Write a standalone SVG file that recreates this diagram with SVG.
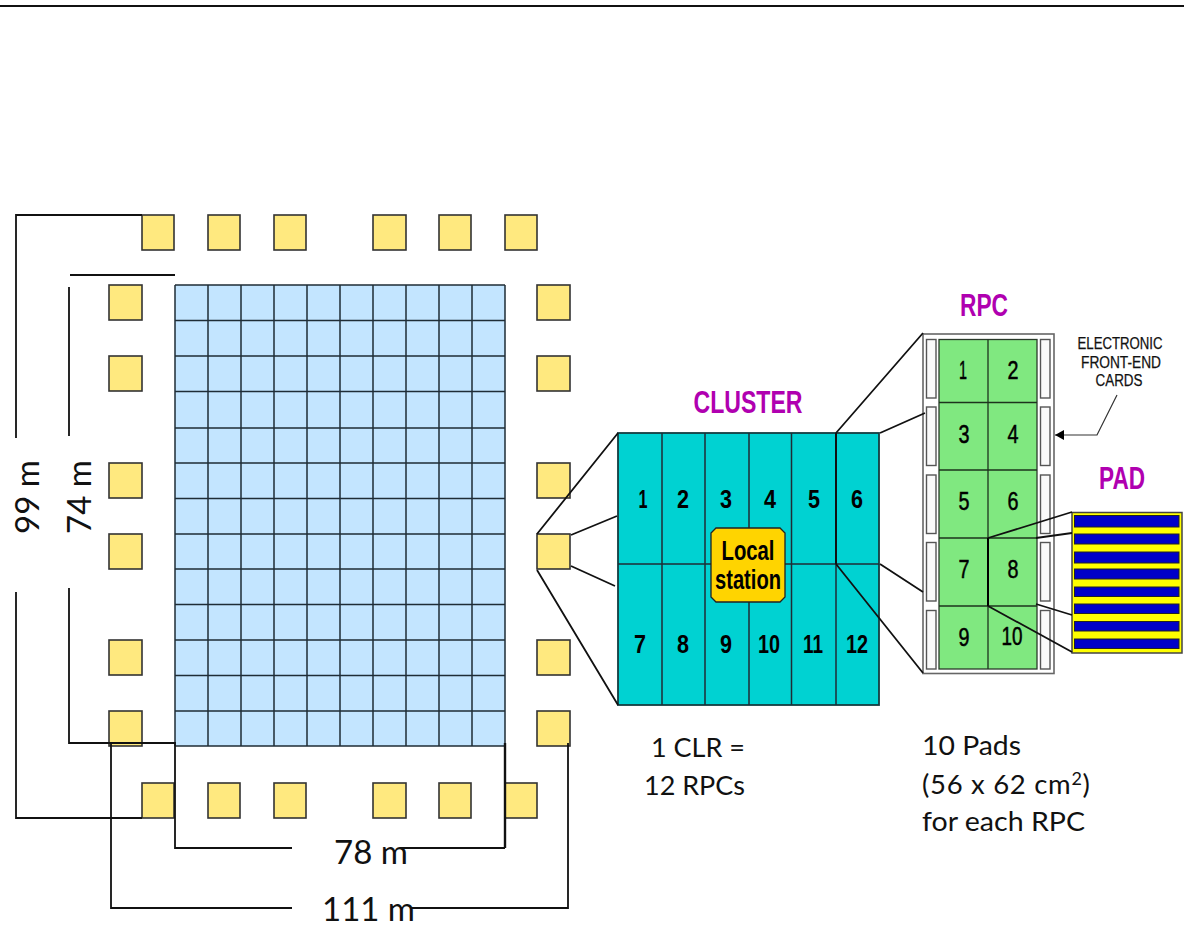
<svg xmlns="http://www.w3.org/2000/svg" width="1184" height="926" viewBox="0 0 1184 926">
<style>
.y{fill:#ffe97f;stroke:#333;stroke-width:1.6}
.g{stroke:#1f2d36;stroke-width:1.5;fill:none}
.l{stroke:#111;stroke-width:1.8;fill:none}
.c{fill:#00d2d2;stroke:#143c40;stroke-width:1.8}
.n{font-family:"Liberation Sans",sans-serif;font-weight:700;font-size:26px;text-anchor:middle;fill:#000}
.r{font-family:"Liberation Sans",sans-serif;font-size:25px;text-anchor:middle;fill:#000;stroke:#000;stroke-width:.5}
.t{font-family:"Liberation Sans",sans-serif;font-weight:700;text-anchor:middle;fill:#b000b0;font-size:32px}
.d{font-family:Lato,"Liberation Sans",sans-serif;fill:#111;font-size:33px}
.s{font-family:Lato,"Liberation Sans",sans-serif;fill:#111;font-size:27.500px}
.e{font-family:"Liberation Sans",sans-serif;font-size:16px;text-anchor:middle;fill:#111;stroke:#111;stroke-width:.25}
.w{fill:#fafafa;stroke:#555;stroke-width:1.4}
.b{fill:#0000c8;stroke:#222;stroke-width:1}
</style>
<defs><marker id="a" markerWidth="10" markerHeight="10" refX="9" refY="5" orient="auto" markerUnits="userSpaceOnUse"><path d="M0 0L9 5L0 10Z" fill="#000"/></marker></defs>
<line x1="0" y1="6" x2="1184" y2="6" stroke="#111" stroke-width="2"/>
<g id="grid">
<rect x="175" y="285" width="330" height="461" fill="#c3e5ff"/>
<path class="g" d="M175 285V746M208 285V746M241 285V746M274 285V746M307 285V746M340 285V746M373 285V746M406 285V746M439 285V746M472 285V746M505 285V746M175 285H505M175 320.500H505M175 356H505M175 391.500H505M175 428H505M175 463H505M175 498.500H505M175 534H505M175 569H505M175 604.500H505M175 640H505M175 675.500H505M175 711H505M175 746H505"/>
</g>
<g id="stations">
<rect class="y" x="142" y="215" width="32" height="35"/><rect class="y" x="208" y="215" width="32" height="35"/><rect class="y" x="274" y="215" width="32" height="35"/><rect class="y" x="373" y="215" width="33" height="35"/><rect class="y" x="439" y="215" width="32" height="35"/><rect class="y" x="505" y="215" width="32" height="35"/>
<rect class="y" x="142" y="783" width="32" height="35"/><rect class="y" x="208" y="783" width="32" height="35"/><rect class="y" x="274" y="783" width="32" height="35"/><rect class="y" x="373" y="783" width="33" height="35"/><rect class="y" x="439" y="783" width="32" height="35"/><rect class="y" x="505" y="783" width="32" height="35"/>
<rect class="y" x="109" y="285" width="33" height="35"/><rect class="y" x="109" y="356" width="33" height="35"/><rect class="y" x="109" y="463" width="33" height="35"/><rect class="y" x="109" y="534" width="33" height="35"/><rect class="y" x="109" y="640" width="33" height="35"/><rect class="y" x="109" y="711" width="33" height="35"/>
<rect class="y" x="537" y="285" width="33" height="35"/><rect class="y" x="537" y="356" width="33" height="35"/><rect class="y" x="537" y="463" width="33" height="35"/><rect class="y" x="537" y="534" width="33" height="35"/><rect class="y" x="537" y="640" width="33" height="35"/><rect class="y" x="537" y="711" width="33" height="35"/>
</g>
<g id="cluster">
<rect class="c" x="618" y="433" width="261" height="272"/>
<path class="g" d="M662 433V705M705 433V705M749 433V705M791.500 433V705M836 564V705M618 564H879"/>
<path d="M836 433V564" stroke="#111" stroke-width="2" fill="none"/>
<path d="M716 528H780L785 533V597L780 602H716L711 597V533Z" fill="#ffd400" stroke="#222" stroke-width="1.300"/>
<text class="n" x="643" y="508" textLength="9" lengthAdjust="spacingAndGlyphs">1</text><text class="n" x="683" y="508" textLength="12" lengthAdjust="spacingAndGlyphs">2</text><text class="n" x="726" y="508" textLength="12" lengthAdjust="spacingAndGlyphs">3</text><text class="n" x="770" y="508" textLength="12" lengthAdjust="spacingAndGlyphs">4</text><text class="n" x="814" y="508" textLength="12" lengthAdjust="spacingAndGlyphs">5</text><text class="n" x="857" y="508" textLength="12" lengthAdjust="spacingAndGlyphs">6</text>
<text class="n" x="640" y="653" textLength="12" lengthAdjust="spacingAndGlyphs">7</text><text class="n" x="683" y="653" textLength="12" lengthAdjust="spacingAndGlyphs">8</text><text class="n" x="726" y="653" textLength="12" lengthAdjust="spacingAndGlyphs">9</text><text class="n" x="769" y="653" textLength="22" lengthAdjust="spacingAndGlyphs">10</text><text class="n" x="813" y="653" textLength="20" lengthAdjust="spacingAndGlyphs">11</text><text class="n" x="857" y="653" textLength="22" lengthAdjust="spacingAndGlyphs">12</text>
<text class="n" x="748" y="560" textLength="53" lengthAdjust="spacingAndGlyphs" style="font-size:28px">Local</text><text class="n" x="748" y="589" textLength="66" lengthAdjust="spacingAndGlyphs" style="font-size:28px">station</text>
<text class="t" x="748" y="413" textLength="109" lengthAdjust="spacingAndGlyphs">CLUSTER</text>
</g>
<g id="rpc">
<rect x="923" y="334" width="131" height="339.500" fill="#fff" stroke="#666" stroke-width="1.600"/>
<rect class="w" x="926.500" y="339.500" width="9.500" height="58.500"/><rect class="w" x="926.500" y="407" width="9.500" height="58.500"/><rect class="w" x="926.500" y="475" width="9.500" height="58.500"/><rect class="w" x="926.500" y="542.500" width="9.500" height="58.500"/><rect class="w" x="926.500" y="610.500" width="9.500" height="58.500"/>
<rect class="w" x="1040.500" y="339.500" width="9.500" height="58.500"/><rect class="w" x="1040.500" y="407" width="9.500" height="58.500"/><rect class="w" x="1040.500" y="475" width="9.500" height="58.500"/><rect class="w" x="1040.500" y="542.500" width="9.500" height="58.500"/><rect class="w" x="1040.500" y="610.500" width="9.500" height="58.500"/>
<rect x="939" y="339.500" width="98" height="329.500" fill="#80e880" stroke="#2a3a2a" stroke-width="1.300"/>
<path d="M988 339.500V538M988 606V669M939 402.500H1037M939 470H1037M939 538H1037M939 606H1037" stroke="#1d331d" stroke-width="1.300" fill="none"/>
<path d="M988 538V606" stroke="#000" stroke-width="2" fill="none"/>
<text class="r" x="963" y="379" textLength="8" lengthAdjust="spacingAndGlyphs">1</text><text class="r" x="1013" y="379" textLength="11" lengthAdjust="spacingAndGlyphs">2</text><text class="r" x="964" y="443" textLength="11" lengthAdjust="spacingAndGlyphs">3</text><text class="r" x="1013" y="443" textLength="11" lengthAdjust="spacingAndGlyphs">4</text><text class="r" x="964" y="510" textLength="11" lengthAdjust="spacingAndGlyphs">5</text><text class="r" x="1013" y="510" textLength="11" lengthAdjust="spacingAndGlyphs">6</text><text class="r" x="964" y="578" textLength="11" lengthAdjust="spacingAndGlyphs">7</text><text class="r" x="1013" y="578" textLength="11" lengthAdjust="spacingAndGlyphs">8</text><text class="r" x="964" y="646" textLength="11" lengthAdjust="spacingAndGlyphs">9</text><text class="r" x="1012" y="645" textLength="21" lengthAdjust="spacingAndGlyphs">10</text>
<text class="t" x="984" y="316" textLength="48" lengthAdjust="spacingAndGlyphs">RPC</text>
<text class="e" x="1120" y="349" textLength="85" lengthAdjust="spacingAndGlyphs">ELECTRONIC</text><text class="e" x="1121" y="368" textLength="80" lengthAdjust="spacingAndGlyphs">FRONT-END</text><text class="e" x="1119" y="386" textLength="47" lengthAdjust="spacingAndGlyphs">CARDS</text>
</g>
<g id="pad">
<rect x="1072" y="512.500" width="110" height="140.500" fill="#ffff00" stroke="#444" stroke-width="1.500"/>
<rect class="b" x="1074.500" y="515.500" width="104.500" height="11.500"/><rect class="b" x="1074.500" y="534" width="104.500" height="10"/><rect class="b" x="1074.500" y="552" width="104.500" height="11"/><rect class="b" x="1074.500" y="569" width="104.500" height="10"/><rect class="b" x="1074.500" y="587" width="104.500" height="9.500"/><rect class="b" x="1074.500" y="604" width="104.500" height="9.500"/><rect class="b" x="1074.500" y="621.500" width="104.500" height="9.500"/><rect class="b" x="1074.500" y="639" width="104.500" height="9.500"/>
<text class="t" x="1122" y="489" textLength="46" lengthAdjust="spacingAndGlyphs">PAD</text>
</g>
<g id="connectors">
<path class="l" d="M142 215H16V438M16 592V818H142M70 275H175M69 287V436M69 588V743H175V848H292M505 848H400M111 743V908H292M568 743V908H410M175 743H111"/>
<path d="M505 743V848" stroke="#111" stroke-width="2.400" fill="none"/>
<path class="l" d="M537 534L618 433M571 535L617 516M571 566L615 586M537 570L618 705M836 433L923 333M880 433L925 413M880 564L923 592M836 564L923 673M988 538L1072 512M1036 538L1072 533M988 606L1072 652M1036 604L1072 615"/>
<path d="M1117 395L1097 435H1055" stroke="#333" stroke-width="1.200" fill="none" marker-end="url(#a)"/>
</g>
<g id="labels">
<text class="d" transform="translate(39 534) rotate(-90)">99 m</text>
<text class="d" transform="translate(91 534) rotate(-90)">74 m</text>
<text class="d" x="334" y="864">78 m</text>
<text class="d" x="322" y="921">111 m</text>
<text class="s" x="651" y="757" textLength="94" lengthAdjust="spacingAndGlyphs">1 CLR =</text>
<text class="s" x="644" y="795" textLength="101" lengthAdjust="spacingAndGlyphs">12 RPCs</text>
<text class="s" x="922" y="755" textLength="99" lengthAdjust="spacingAndGlyphs">10 Pads</text>
<text class="s" x="922" y="794" letter-spacing=".7">(56 x 62 cm<tspan font-size="18" dy="-9">2</tspan><tspan dy="9">)</tspan></text>
<text class="s" x="922" y="831" textLength="163" lengthAdjust="spacingAndGlyphs">for each RPC</text>
</g>
</svg>
